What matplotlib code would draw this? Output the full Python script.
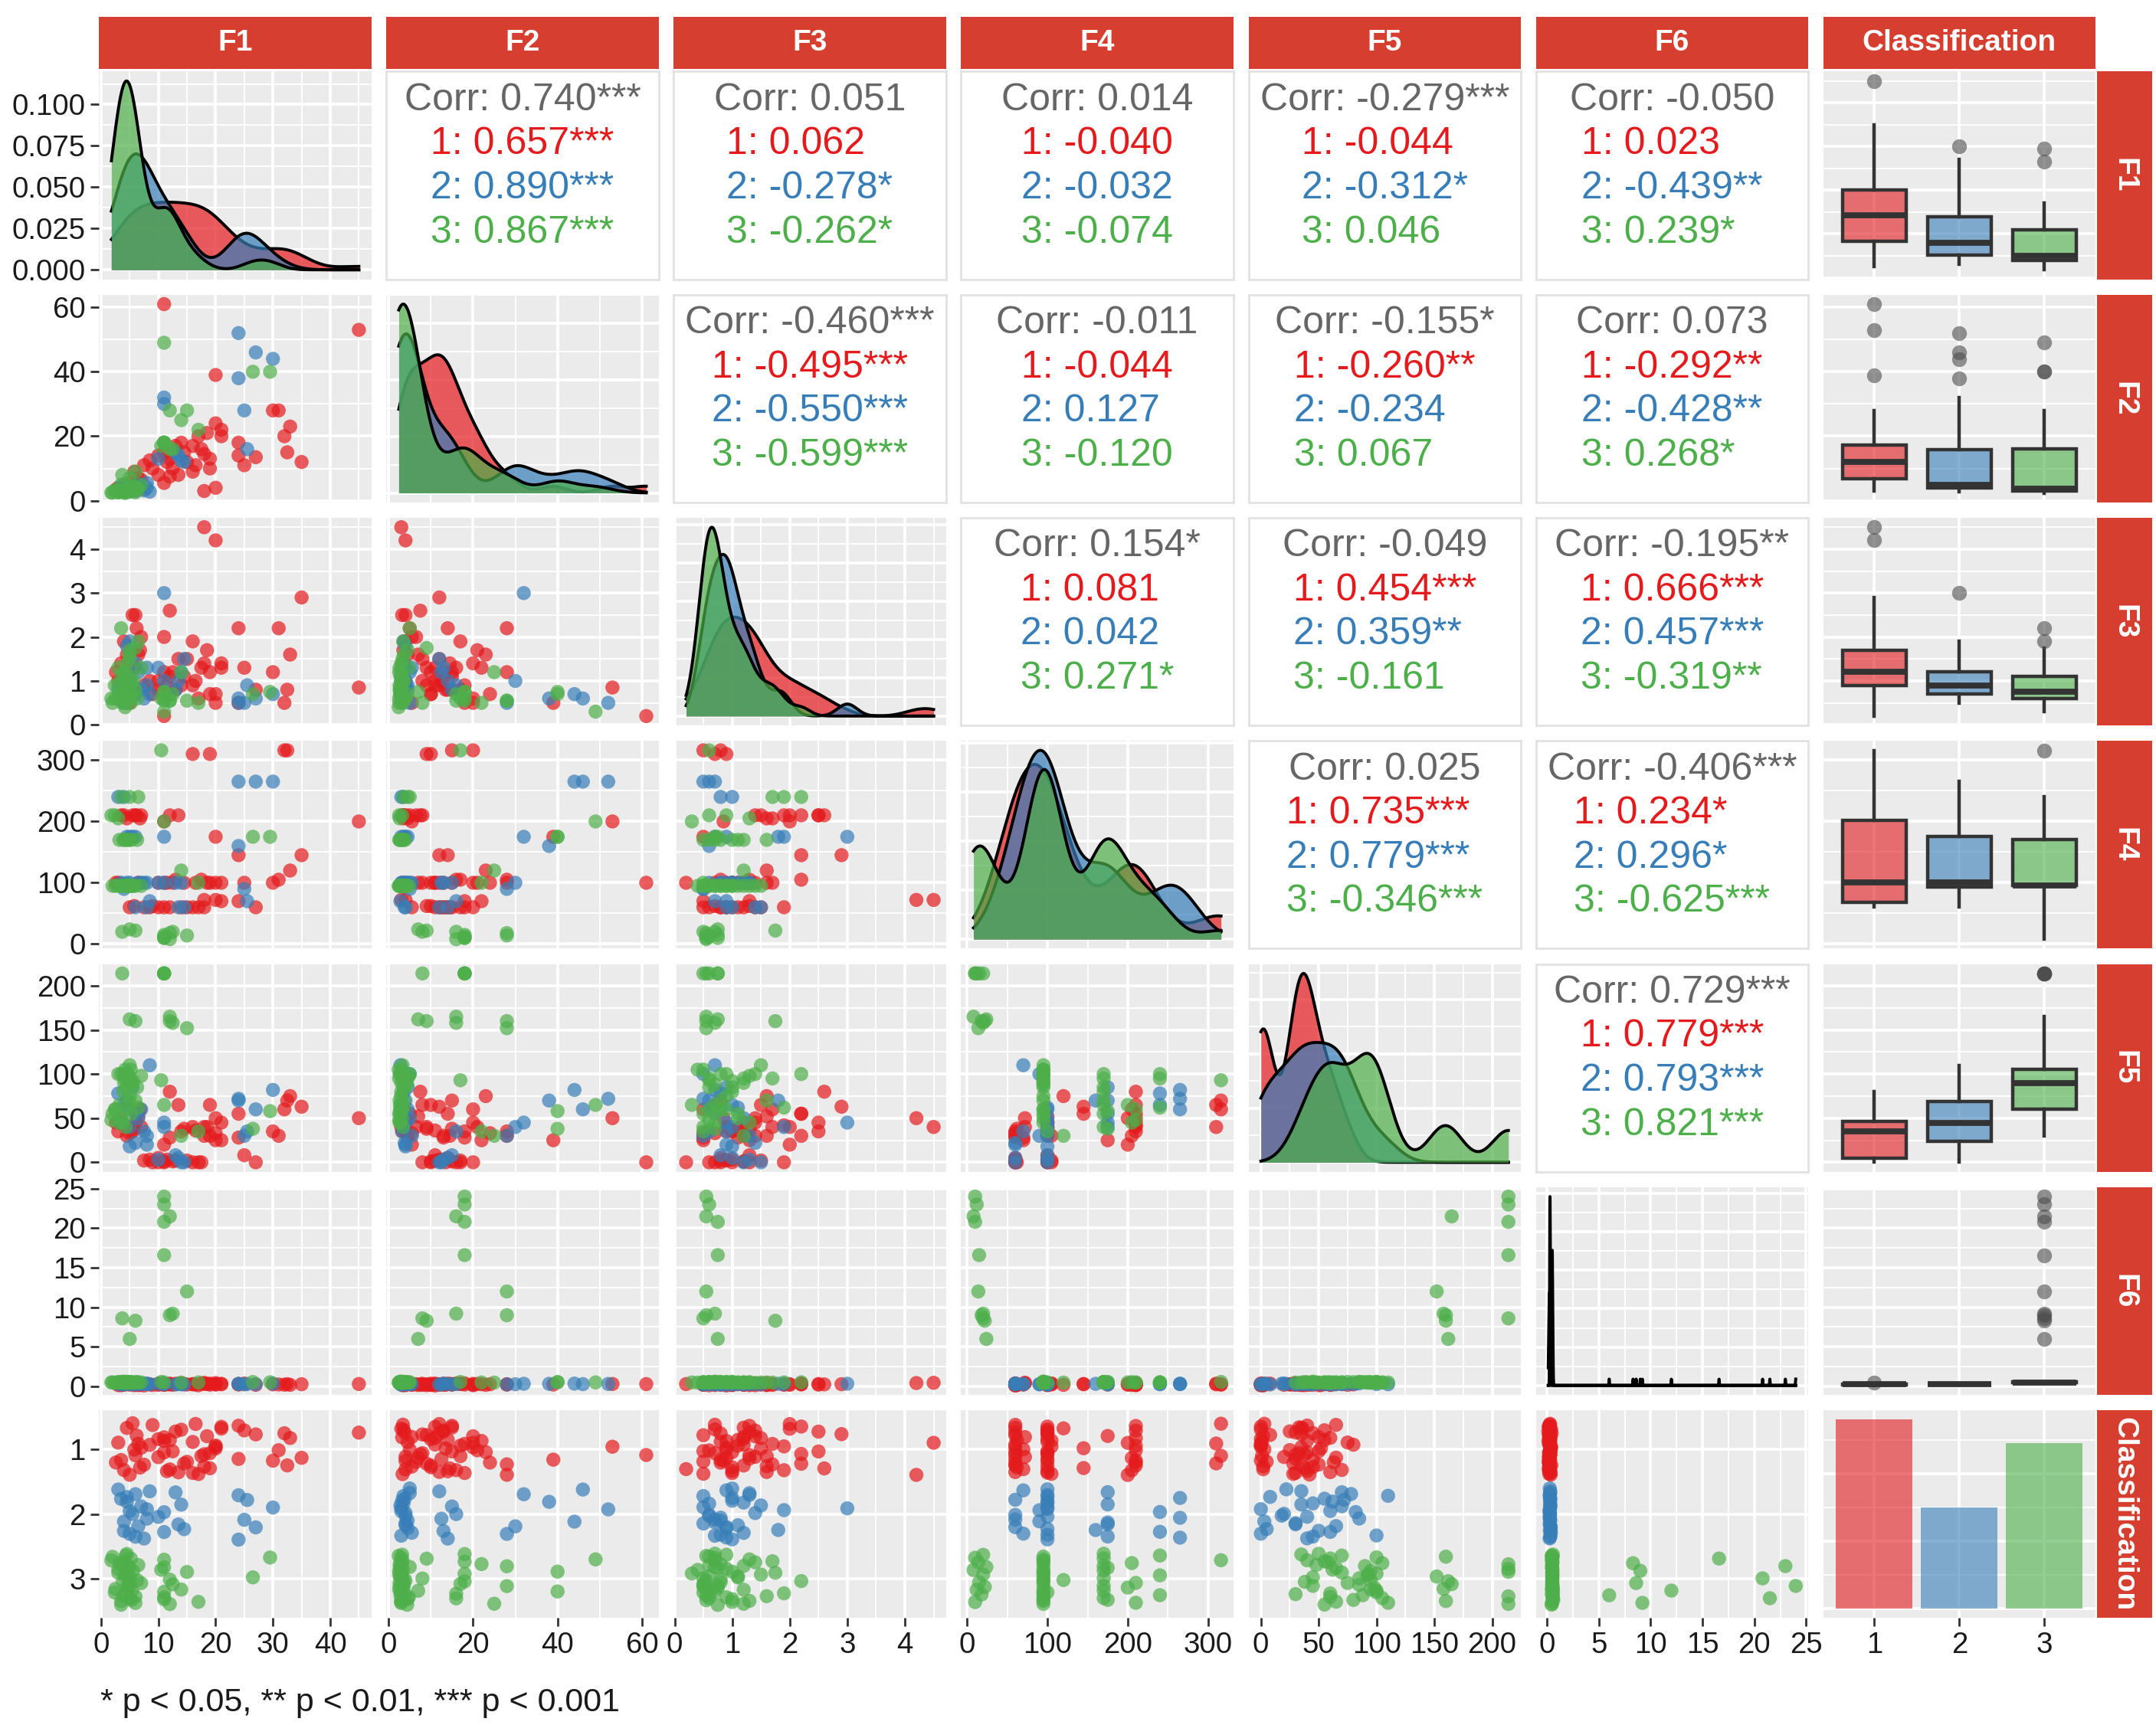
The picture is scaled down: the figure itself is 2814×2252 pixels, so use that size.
import numpy as np
import matplotlib
matplotlib.use("Agg")
import matplotlib.pyplot as plt
from matplotlib.patches import Rectangle
from matplotlib.colors import to_rgba
from matplotlib.ticker import MaxNLocator, FixedLocator, FixedFormatter

plt.rcParams['font.family'] = ['Liberation Sans', 'DejaVu Sans']

# ---------------- data ----------------
VARS = ["F1", "F2", "F3", "F4", "F5", "F6"]
CLASS_LABELS = ["1", "2", "3"]
CLASS_COLORS = ["#E41A1C", "#377EB8", "#4DAF4A"]
STRIP_COLOR = "#D63F2F"
PANEL_BG = "#EBEBEB"

# rows: (F1, F2, F3, F4, F5, F6)
CLASS1_ROWS = [
    (5.5, 3.2, 2.5, 210, 35, 0.30), (6.0, 4.0, 2.5, 210, 45, 0.22), (6.2, 5.0, 2.2, 210, 55, 0.35),
    (6.8, 3.5, 1.7, 205, 60, 0.18), (7.0, 6.5, 2.0, 210, 40, 0.28), (4.5, 4.5, 1.6, 205, 30, 0.40),
    (3.5, 3.3, 1.4, 210, 50, 0.15), (12.0, 7.5, 2.6, 210, 80, 0.25), (13.5, 8.0, 1.5, 210, 65, 0.33),
    (11.0, 5.5, 2.0, 200, 20, 0.20), (45.0, 53.0, 0.85, 200, 50, 0.30),
    (7.5, 11.0, 0.9, 60, 2, 0.12), (8.5, 12.5, 1.0, 60, 3, 0.25), (9.0, 10.0, 0.7, 62, 0, 0.18),
    (10.0, 14.0, 0.8, 60, 5, 0.30), (11.0, 15.0, 1.2, 60, 1, 0.22), (12.0, 13.0, 1.1, 60, 28, 0.35),
    (5.8, 9.0, 1.3, 62, 38, 0.16), (14.0, 18.0, 0.9, 60, 35, 0.38), (15.0, 12.0, 1.5, 60, 2, 0.24),
    (16.0, 17.0, 1.9, 60, 0, 0.29), (17.0, 20.0, 0.6, 60, 0, 0.14), (18.0, 14.5, 1.4, 60, 30, 0.31),
    (27.0, 13.5, 0.8, 60, 0, 0.20), (18.0, 3.0, 4.5, 72, 40, 0.45), (20.0, 4.0, 4.2, 72, 50, 0.42),
    (21.0, 22.0, 1.3, 70, 25, 0.27), (24.0, 18.0, 0.5, 70, 28, 0.23),
    (10.0, 8.0, 1.0, 100, 0, 0.19), (11.5, 12.0, 0.9, 100, 3, 0.26), (12.5, 10.0, 1.2, 100, 1, 0.21),
    (13.0, 17.0, 0.8, 105, 2, 0.33), (14.5, 15.0, 1.1, 100, 38, 0.28), (6.5, 7.0, 1.6, 100, 52, 0.17),
    (16.5, 11.0, 1.0, 100, 36, 0.24), (17.5, 16.0, 1.3, 105, 0, 0.36), (18.5, 21.0, 1.7, 100, 40, 0.30),
    (19.0, 13.0, 1.2, 100, 30, 0.22), (20.0, 24.0, 0.7, 100, 33, 0.27), (21.0, 20.0, 1.4, 100, 45, 0.32),
    (30.0, 28.0, 1.2, 100, 35, 0.25), (11.0, 61.0, 0.2, 100, 0, 0.29),
    (16.0, 9.0, 0.9, 310, 40, 0.26), (19.0, 10.0, 0.7, 310, 65, 0.34), (32.0, 20.0, 0.5, 316, 60, 0.21),
    (32.5, 15.0, 0.8, 316, 70, 0.28),
    (20.0, 39.0, 0.5, 175, 25, 0.23), (24.0, 14.0, 2.2, 145, 55, 0.30), (35.0, 12.0, 2.9, 145, 63, 0.27),
    (33.0, 23.0, 1.6, 120, 75, 0.19), (4.0, 3.8, 1.9, 210, 42, 0.20), (31.0, 28.0, 2.2, 105, 30, 0.24),
    (25.0, 11.0, 1.3, 100, 8, 0.35), (2.6, 3.4, 1.2, 100, 45, 0.40), (3.0, 4.0, 1.0, 100, 35, 0.16),
    (5.0, 5.5, 0.5, 60, 33, 0.22),
]

CLASS2_ROWS = [
    (24.0, 52.0, 0.5, 265, 72, 0.30), (27.0, 46.0, 0.6, 265, 60, 0.28), (30.0, 44.0, 0.7, 265, 82, 0.35),
    (24.0, 38.0, 0.6, 160, 70, 0.32), (25.0, 28.0, 0.5, 90, 30, 0.25), (25.5, 16.0, 0.9, 70, 35, 0.29),
    (11.0, 32.0, 3.0, 175, 45, 0.33), (11.0, 30.0, 1.0, 100, 40, 0.27), (13.0, 15.0, 0.8, 100, 8, 0.24),
    (13.5, 14.0, 1.0, 60, 5, 0.31), (14.0, 12.5, 1.2, 100, 0, 0.26), (6.0, 3.8, 1.4, 60, 22, 0.30),
    (10.0, 13.0, 1.3, 100, 3, 0.34), (4.5, 3.0, 1.1, 100, 62, 0.28), (14.5, 12.0, 1.5, 60, 0, 0.25),
    (8.0, 4.0, 0.9, 60, 20, 0.36), (3.0, 3.5, 0.8, 240, 78, 0.30), (4.0, 3.0, 1.0, 240, 65, 0.27),
    (4.5, 4.0, 1.8, 175, 70, 0.32), (5.0, 3.5, 1.9, 175, 40, 0.29), (5.5, 4.5, 0.9, 175, 85, 0.38),
    (6.0, 3.0, 0.7, 175, 55, 0.26), (6.5, 5.0, 1.2, 100, 50, 0.31), (7.0, 4.5, 0.8, 100, 60, 0.28),
    (7.5, 3.2, 0.6, 100, 35, 0.33), (8.0, 5.5, 1.3, 100, 30, 0.30), (3.5, 4.0, 0.9, 100, 45, 0.25),
    (4.0, 5.0, 0.5, 90, 100, 0.29), (5.0, 4.0, 1.0, 100, 18, 0.34), (8.5, 2.8, 0.7, 70, 110, 0.27),
]

CLASS3_ROWS = [
    (11.0, 18.0, 0.55, 10, 214, 24.0), (11.0, 18.0, 0.60, 12, 214, 23.0), (12.0, 16.0, 0.55, 8, 165, 21.5),
    (11.0, 18.0, 0.75, 10, 214, 20.8), (11.0, 18.0, 0.75, 15, 214, 16.6), (15.0, 28.0, 0.55, 14, 152, 12.0),
    (12.0, 28.0, 0.55, 18, 160, 9.0), (12.5, 16.0, 0.70, 20, 158, 9.2), (3.7, 8.0, 0.50, 20, 214, 8.6),
    (6.0, 9.0, 1.75, 22, 160, 8.3), (5.0, 7.0, 0.75, 24, 162, 6.0),
    (2.0, 2.5, 0.5, 95, 55, 0.50), (2.5, 3.0, 0.6, 95, 60, 0.45), (3.0, 2.6, 0.9, 95, 100, 0.55),
    (3.5, 3.2, 1.1, 95, 50, 0.48), (3.8, 2.8, 0.7, 95, 45, 0.60), (4.0, 3.0, 1.2, 95, 90, 0.52),
    (4.2, 2.4, 0.4, 95, 105, 0.47), (4.4, 3.5, 1.0, 95, 85, 0.58), (4.5, 2.7, 0.8, 95, 60, 0.50),
    (4.6, 3.0, 1.4, 95, 100, 0.44), (4.8, 4.0, 0.6, 95, 95, 0.53), (5.0, 3.3, 1.5, 95, 110, 0.49),
    (5.0, 2.9, 0.9, 95, 75, 0.56), (5.2, 3.1, 0.5, 95, 105, 0.51), (5.4, 4.4, 0.7, 95, 88, 0.54),
    (5.6, 3.6, 1.0, 95, 92, 0.46), (6.0, 2.6, 0.8, 95, 70, 0.52), (7.0, 4.8, 1.3, 95, 98, 0.50),
    (3.2, 2.7, 0.7, 170, 65, 0.50), (3.9, 3.0, 1.0, 170, 80, 0.54), (4.1, 2.5, 1.2, 170, 95, 0.46),
    (4.3, 3.4, 0.5, 170, 40, 0.52), (4.7, 2.9, 0.8, 170, 100, 0.57), (4.9, 3.6, 1.6, 170, 70, 0.49),
    (5.3, 2.8, 1.1, 170, 55, 0.51), (6.3, 3.9, 0.6, 170, 85, 0.55),
    (1.8, 2.5, 0.6, 210, 48, 0.50), (2.4, 3.2, 0.9, 210, 60, 0.47), (3.0, 2.6, 1.3, 205, 45, 0.53),
    (3.5, 5.0, 2.2, 240, 100, 0.52), (5.0, 4.5, 1.7, 240, 95, 0.48), (6.5, 3.5, 1.9, 240, 62, 0.50),
    (11.0, 49.0, 0.3, 200, 65, 0.50), (26.5, 40.0, 0.7, 175, 38, 0.55), (29.5, 40.0, 0.75, 175, 58, 0.52),
    (14.0, 25.0, 1.2, 120, 30, 0.48), (10.5, 17.0, 0.6, 316, 93, 0.56), (17.0, 22.0, 0.5, 100, 35, 0.50),
]

VAR_TICKS = [[0, 10, 20, 30, 40], [0, 20, 40, 60], [0, 1, 2, 3, 4],
             [0, 100, 200, 300], [0, 50, 100, 150, 200], [0, 5, 10, 15, 20, 25]]
CLASS_TICKS = [1, 2, 3]
DENSITY_TICKS_F1 = [0.0, 0.025, 0.05, 0.075, 0.1]

CORR_TEXT = {
    (0, 1): ["0.740***", "0.657***", "0.890***", "0.867***"],
    (0, 2): ["0.051", "0.062", "-0.278*", "-0.262*"],
    (0, 3): ["0.014", "-0.040", "-0.032", "-0.074"],
    (0, 4): ["-0.279***", "-0.044", "-0.312*", "0.046"],
    (0, 5): ["-0.050", "0.023", "-0.439**", "0.239*"],
    (1, 2): ["-0.460***", "-0.495***", "-0.550***", "-0.599***"],
    (1, 3): ["-0.011", "-0.044", "0.127", "-0.120"],
    (1, 4): ["-0.155*", "-0.260**", "-0.234", "0.067"],
    (1, 5): ["0.073", "-0.292**", "-0.428**", "0.268*"],
    (2, 3): ["0.154*", "0.081", "0.042", "0.271*"],
    (2, 4): ["-0.049", "0.454***", "0.359**", "-0.161"],
    (2, 5): ["-0.195**", "0.666***", "0.457***", "-0.319**"],
    (3, 4): ["0.025", "0.735***", "0.779***", "-0.346***"],
    (3, 5): ["-0.406***", "0.234*", "0.296*", "-0.625***"],
    (4, 5): ["0.729***", "0.779***", "0.793***", "0.821***"],
}
FOOTNOTE = "* p < 0.05, ** p < 0.01, *** p < 0.001"

# ---------------- helpers ----------------
data = [np.array(r, dtype=float) for r in (CLASS1_ROWS, CLASS2_ROWS, CLASS3_ROWS)]
allv = np.vstack(data)
NV = len(VARS)
rngs = [(allv[:, k].min(), allv[:, k].max()) for k in range(NV)]
lims = [(lo - 0.05 * (hi - lo), hi + 0.05 * (hi - lo)) for lo, hi in rngs]


def bw_nrd0(x):
    sd = np.std(x, ddof=1)
    q75, q25 = np.percentile(x, [75, 25])
    lo = min(sd, (q75 - q25) / 1.34)
    if lo <= 0:
        lo = sd if sd > 0 else 1.0
    return 0.9 * lo * len(x) ** (-0.2)


def kde(x, grid):
    bw = bw_nrd0(x)
    z = (grid[:, None] - x[None, :]) / bw
    return np.exp(-0.5 * z * z).sum(axis=1) / (len(x) * bw * np.sqrt(2 * np.pi))


def minor_from(majors, lo, hi):
    m = sorted(majors)
    step = m[1] - m[0]
    ext = [m[0] - step] + m + [m[-1] + step]
    mids = [(a + b) / 2 for a, b in zip(ext[:-1], ext[1:])]
    return [v for v in mids if lo <= v <= hi]


def set_axis(ax, which, majors, lo, hi, minor=True, labels=None):
    maj = [v for v in majors if lo - 1e-12 <= v <= hi + 1e-12]
    mins = minor_from(majors, lo, hi) if minor else []
    axis = ax.xaxis if which == 'x' else ax.yaxis
    axis.set_major_locator(FixedLocator(maj))
    axis.set_minor_locator(FixedLocator(mins))
    if labels is None:
        labs = [("%g" % v) for v in maj]
    else:
        labs = [labels(v) for v in maj]
    axis.set_major_formatter(FixedFormatter(labs))


def gray_panel(ax):
    ax.set_facecolor(PANEL_BG)
    for s in ax.spines.values():
        s.set_visible(False)
    ax.set_axisbelow(True)
    ax.grid(True, which='major', color='white', linewidth=1.3)
    ax.grid(True, which='minor', color='white', linewidth=0.65)
    ax.tick_params(which='both', length=0, labelbottom=False, labelleft=False)


# ---------------- figure / layout ----------------
W, H = 1568.0, 1254.0
fig = plt.figure(figsize=(2814 / 200, 2252 / 200), dpi=200)


def cx(j):
    return 72 + 209 * j


def ry(i):
    return 52 + 162.2 * i


PW, PH = 198, 151
TICK_FS = 13.8
TICK_KW = dict(length=3.8, width=1.0, color='#333333', labelsize=TICK_FS, labelcolor='#1A1A1A', pad=2.5)
PT_SIZE = 44

axes = {}
cor_axes = []
for i in range(7):
    for j in range(7):
        ax = fig.add_axes([cx(j) / W, 1 - (ry(i) + PH) / H, PW / W, PH / H])
        axes[(i, j)] = ax
        if i < 6 and j < 6 and i < j:
            # correlation panel
            ax.set_facecolor('white')
            for s in ax.spines.values():
                s.set_color('#E2E2E2')
                s.set_linewidth(1.0)
            ax.set_xticks([])
            ax.set_yticks([])
            ax.set_xlim(0, 1)
            ax.set_ylim(0, 1)
            cor_axes.append((ax, CORR_TEXT[(i, j)]))
            continue
        gray_panel(ax)
        if i == j and i < 6:
            k = i
            grid = np.linspace(rngs[k][0], rngs[k][1], 2048)
            ymax = 0
            z = 2
            for c in range(3):
                d = kde(data[c][:, k], grid)
                ymax = max(ymax, d.max())
                ax.fill_between(grid, 0, d, color=to_rgba(CLASS_COLORS[c], 0.7), linewidth=0, zorder=z)
                ax.plot(grid, d, color='black', linewidth=1.4, zorder=z + 1)
                z += 2
            ax.set_xlim(*lims[k])
            ax.set_ylim(-0.05 * ymax, 1.05 * ymax)
            set_axis(ax, 'x', VAR_TICKS[k], *lims[k])
            if k == 0:
                dmaj = DENSITY_TICKS_F1
            else:
                dmaj = list(MaxNLocator(nbins=5, steps=[1, 2, 2.5, 5, 10]).tick_values(0, ymax))
            set_axis(ax, 'y', dmaj, -0.05 * ymax, 1.05 * ymax, labels=lambda v: "%.3f" % v)
        elif i == 6 and j == 6:
            counts = [len(d) for d in data]
            ax.bar(CLASS_TICKS, counts, width=0.9,
                   color=[to_rgba(c, 0.6) for c in CLASS_COLORS], linewidth=0, zorder=2)
            mx = max(counts)
            ax.set_xlim(0.4, 3.6)
            ax.set_ylim(-0.05 * mx, 1.05 * mx)
            set_axis(ax, 'x', CLASS_TICKS, 0.4, 3.6, minor=False)
            cmaj = list(MaxNLocator(nbins=4, steps=[1, 2, 2.5, 5, 10]).tick_values(0, mx))
            set_axis(ax, 'y', cmaj, -0.05 * mx, 1.05 * mx)
        elif j == 6:
            k = i
            vals = [data[c][:, k] for c in range(3)]
            bp = ax.boxplot(vals, positions=CLASS_TICKS, widths=0.75, patch_artist=True,
                            showcaps=False, manage_ticks=False,
                            medianprops=dict(color='#333333', linewidth=2.8),
                            whiskerprops=dict(color='#333333', linewidth=1.6),
                            flierprops=dict(marker='o', markerfacecolor='#4D4D4D',
                                            markeredgecolor='none', alpha=0.6, markersize=7))
            for patch, col in zip(bp['boxes'], CLASS_COLORS):
                patch.set_facecolor(to_rgba(col, 0.6))
                patch.set_edgecolor('#333333')
                patch.set_linewidth(1.6)
            ax.set_xlim(0.4, 3.6)
            ax.set_ylim(*lims[k])
            set_axis(ax, 'x', CLASS_TICKS, 0.4, 3.6, minor=False)
            set_axis(ax, 'y', VAR_TICKS[k], *lims[k])
        elif i == 6:
            k = j
            for c in range(3):
                n = len(data[c])
                jit = np.array([((t * 0.6180339887 + j * 0.2718 + c * 0.137) % 1.0 - 0.5) * 0.8
                                for t in range(n)])
                ax.scatter(data[c][:, k], (c + 1) + jit, s=PT_SIZE, color=CLASS_COLORS[c],
                           alpha=0.7, edgecolors='none', zorder=3)
            ax.set_xlim(*lims[k])
            ax.set_ylim(3.6, 0.4)
            set_axis(ax, 'x', VAR_TICKS[k], *lims[k])
            set_axis(ax, 'y', CLASS_TICKS, 0.4, 3.6, minor=False)
        else:
            kx, ky = j, i
            for c in range(3):
                ax.scatter(data[c][:, kx], data[c][:, ky], s=PT_SIZE, color=CLASS_COLORS[c],
                           alpha=0.7, edgecolors='none', zorder=3)
            ax.set_xlim(*lims[kx])
            ax.set_ylim(*lims[ky])
            set_axis(ax, 'x', VAR_TICKS[kx], *lims[kx])
            set_axis(ax, 'y', VAR_TICKS[ky], *lims[ky])
        if j == 0:
            ax.tick_params(axis='y', which='major', labelleft=True, **TICK_KW)
        if i == 6:
            ax.tick_params(axis='x', which='major', labelbottom=True, **TICK_KW)

# correlation text
renderer = fig.canvas.get_renderer()
for ax, vals in cor_axes:
    ax.text(0.5, 0.8625, "Corr: " + vals[0], color='#666666', fontsize=18,
            ha='center', va='center', transform=ax.transAxes)
    texts = []
    for c in range(3):
        t = ax.text(0.0, 0.65 - 0.2125 * c, "%s: %s" % (CLASS_LABELS[c], vals[c + 1]),
                    color=CLASS_COLORS[c], fontsize=18, ha='left', va='center',
                    transform=ax.transAxes)
        texts.append(t)
    maxw = max(t.get_window_extent(renderer).width for t in texts)
    axw = ax.get_window_extent(renderer).width
    x0 = 0.5 - (maxw / 2.0) / axw
    for t in texts:
        t.set_x(x0)

# strips
ALL_NAMES = VARS + ["Classification"]
for j in range(7):
    fig.patches.append(Rectangle((cx(j) / W, 1 - 50 / H), PW / W, 38 / H,
                                 transform=fig.transFigure, facecolor=STRIP_COLOR,
                                 edgecolor='none', zorder=0))
    fig.text((cx(j) + PW / 2) / W, 1 - 31 / H, ALL_NAMES[j], color='white', fontsize=14,
             fontweight='bold', ha='center', va='center')
for i in range(7):
    fig.patches.append(Rectangle((1525 / W, 1 - (ry(i) + PH) / H), 40 / W, PH / H,
                                 transform=fig.transFigure, facecolor=STRIP_COLOR,
                                 edgecolor='none', zorder=0))
    fig.text(1545 / W, 1 - (ry(i) + PH / 2) / H, ALL_NAMES[i], color='white', fontsize=14,
             fontweight='bold', ha='center', va='center', rotation=270)

fig.text(73 / W, 1 - 1238 / H, FOOTNOTE, fontsize=15.5, ha='left', va='center', color='#1A1A1A')

fig.savefig("out.png", dpi=200, facecolor='white')
